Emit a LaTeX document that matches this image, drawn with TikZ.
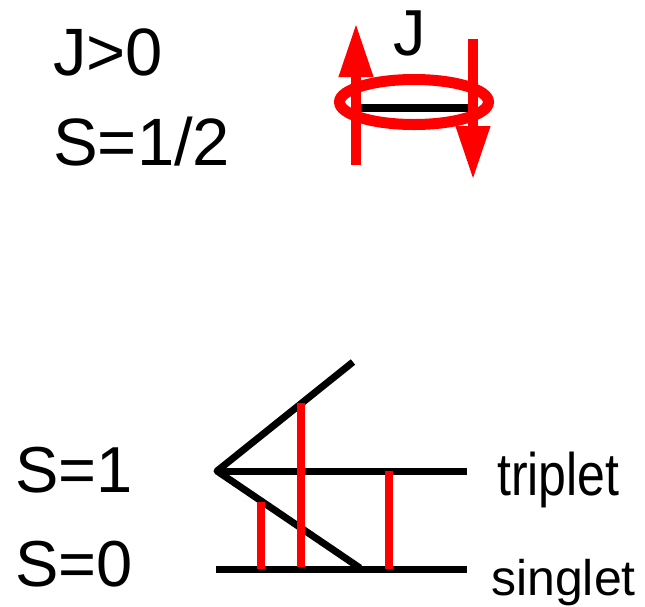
\documentclass[tikz,border=0pt]{standalone}
\usepackage{fontspec}
\setmainfont{Liberation Sans}
\usetikzlibrary{arrows.meta}
\begin{document}
\begin{tikzpicture}[x=1pt,y=-1pt,
  blk/.style={line width=7pt,black},
  redbar/.style={line width=8pt,red},
  big/.style={font=\fontsize{67}{72}\selectfont, inner sep=0pt, anchor=base west},
  mid/.style={font=\fontsize{65}{70}\selectfont, inner sep=0pt, anchor=base west},
  lab/.style={font=\fontsize{50}{56}\selectfont, inner sep=0pt, anchor=base west},
  spin/.style={line width=10pt,red,-{Triangle[length=54pt,width=32pt]}}
]
\useasboundingbox (0,0) rectangle (645,606);
% top: spin dimer
\draw[red, line width=11pt] (414,102) ellipse [x radius=74.5pt, y radius=22.5pt];
\coordinate (bl) at (360,107.5);
\coordinate (br) at (468,107.5);
\draw[line width=8pt] (bl) -- (br);
\coordinate (uptail) at (356,165);
\coordinate (uptip) at (356,23);
\coordinate (dntail) at (473,39);
\coordinate (dntip) at (473,180);
\draw[spin] (uptail) -- (uptip);
\draw[spin] (dntail) -- (dntip);
\node[mid] (jl) at (393,55) {J};
\node[big] (jpos) at (53,75) {J>0};
\node[big] (shalf) at (53,165) {S=1/2};
% bottom: levels
\coordinate (apex) at (217,471);
\coordinate (tup) at (353,362);
\coordinate (tend) at (467,471);
\coordinate (lend) at (360,568);
\coordinate (sstart) at (216,569);
\coordinate (send) at (467,569);
\draw[blk, line join=round] (tup) -- (apex) -- (lend);
\draw[blk] (apex) -- (tend);
\draw[blk] (sstart) -- (send);
\coordinate (r1a) at (261,502); \coordinate (r1b) at (261,569);
\coordinate (r2a) at (301,403); \coordinate (r2b) at (301,567);
\coordinate (r3a) at (389,471); \coordinate (r3b) at (389,569);
\draw[redbar] (r1a) -- (r1b);
\draw[redbar] (r2a) -- (r2b);
\draw[redbar] (r3a) -- (r3b);
\node[mid] (s1) at (15,492) {S=1};
\node[mid] (s0) at (15,586) {S=0};
\node[lab, yscale=1.2] (trip) at (497,495) {triplet};
\node[lab] (sing) at (491,595) {singlet};
\end{tikzpicture}
\end{document}
